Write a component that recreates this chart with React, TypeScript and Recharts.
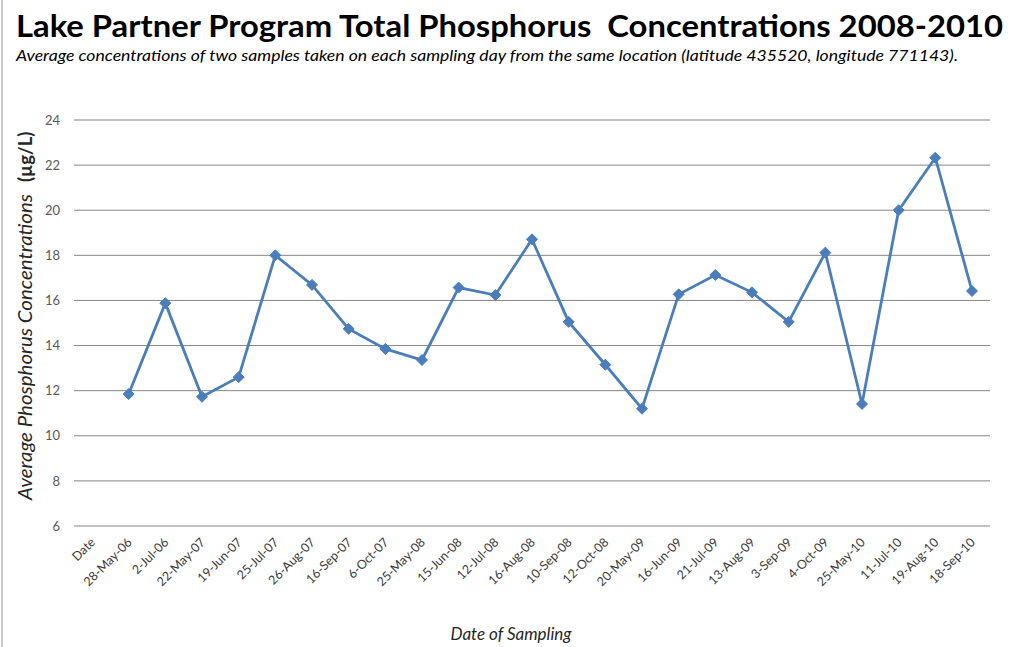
import { LineChart, Line, XAxis, YAxis, CartesianGrid } from 'recharts'

const samplingDates = [
  'Date',
  '28-May-06', '2-Jul-06', '22-May-07', '19-Jun-07', '25-Jul-07', '26-Aug-07',
  '16-Sep-07', '6-Oct-07', '25-May-08', '15-Jun-08', '12-Jul-08', '16-Aug-08',
  '10-Sep-08', '12-Oct-08', '20-May-09', '16-Jun-09', '21-Jul-09', '13-Aug-09',
  '3-Sep-09', '4-Oct-09', '25-May-10', '11-Jul-10', '19-Aug-10', '18-Sep-10',
]

// average of two samples per day, µg/L ("Date" is the header cell, no value)
const totalPhosphorus = [
  null,
  11.85, 15.88, 11.73, 12.6, 18.0, 16.69,
  14.74, 13.85, 13.36, 16.57, 16.24, 18.71,
  15.05, 13.15, 11.2, 16.27, 17.13, 16.36,
  15.05, 18.12, 11.41, 20.0, 22.33, 16.42,
]

const yTicks = [6, 8, 10, 12, 14, 16, 18, 20, 22, 24]

const FONT = 'Lato, "Open Sans", sans-serif'
const BLUE = '#4a7ebb'

const chartData = samplingDates.map((date, i) => ({ date, tp: totalPhosphorus[i] }))

const DateTick = (props: any) => {
  const { x, y, payload } = props
  return (
    <g transform={`translate(${x + 4},${y + 17}) rotate(-45)`}>
      <text textAnchor="end" fontSize={12.5} fontFamily={FONT} fill="#3a3a3a">
        {payload.value}
      </text>
    </g>
  )
}

const Diamond = (props: any) => {
  const { cx, cy, index, value } = props
  if (value == null || cx == null || cy == null) return <g key={`d-${index}`} />
  const r = 5.5
  return (
    <path
      key={`d-${index}`}
      d={`M${cx},${cy - r}L${cx + r},${cy}L${cx},${cy + r}L${cx - r},${cy}Z`}
      fill={BLUE}
      stroke={BLUE}
      strokeWidth={1}
    />
  )
}

export default function App() {
  return (
    <div
      style={{
        position: 'absolute',
        left: 0,
        top: 0,
        width: 1013,
        height: 647,
        background: '#fff',
        fontFamily: FONT,
      }}
    >
      <LineChart
        width={1013}
        height={647}
        data={chartData}
        margin={{ top: 120, right: 23, bottom: 0, left: 0 }}
      >
        <CartesianGrid vertical={false} stroke="#868686" strokeWidth={1} />
        <XAxis
          dataKey="date"
          interval={0}
          tickLine={false}
          axisLine={false}
          tickSize={0}
          tickMargin={0}
          padding={{ left: 18, right: 18 }}
          height={121}
          tick={<DateTick />}
        />
        <YAxis
          domain={[6, 24]}
          ticks={yTicks}
          tickLine={false}
          axisLine={false}
          tickSize={0}
          tickMargin={14}
          width={74}
          tick={{ fontSize: 13, fill: '#595959', fontFamily: FONT }}
        />
        <Line
          type="linear"
          dataKey="tp"
          stroke={BLUE}
          strokeWidth={2.8}
          dot={<Diamond />}
          activeDot={false}
          isAnimationActive={false}
        />
      </LineChart>

      {/* titles and axis titles */}
      <svg
        width={1013}
        height={647}
        style={{ position: 'absolute', left: 0, top: 0, pointerEvents: 'none' }}
      >
        <rect x={1} y={0} width={2} height={647} fill="#c8c8c8" />
        <text
          x={16}
          y={37}
          fontSize={30}
          fontWeight={700}
          fontFamily={FONT}
          fill="#000"
          textLength={987}
          lengthAdjust="spacingAndGlyphs"
          style={{ whiteSpace: 'pre' }}
        >
          Lake Partner Program Total Phosphorus  Concentrations 2008-2010
        </text>
        <text
          x={16}
          y={61}
          fontSize={15}
          fontStyle="italic"
          fontFamily={FONT}
          fill="#000"
          textLength={942}
          lengthAdjust="spacingAndGlyphs"
        >
          Average concentrations of two samples taken on each sampling day from the same location (latitude 435520, longitude 771143).
        </text>
        <g transform="translate(32,500) rotate(-90)">
          <text fontSize={18.5} fontFamily={FONT} fill="#262626">
            <tspan fontStyle="italic" textLength={306} lengthAdjust="spacingAndGlyphs">
              Average Phosphorus Concentrations
            </tspan>
            <tspan dx={12} fontWeight={700}>(µg/L)</tspan>
          </text>
        </g>
        <text
          x={511}
          y={640}
          textAnchor="middle"
          fontSize={17}
          fontStyle="italic"
          fontFamily={FONT}
          fill="#262626"
        >
          Date of Sampling
        </text>
      </svg>
    </div>
  )
}
